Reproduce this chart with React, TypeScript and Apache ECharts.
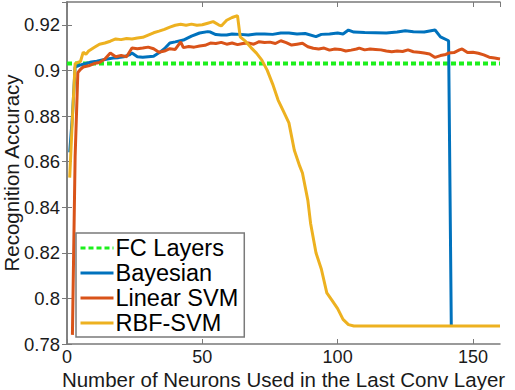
import React, { useEffect, useRef } from "react";
import * as echarts from "echarts";

const xTicks = [0, 50, 100, 150];
const yTicks = [0.78, 0.8, 0.82, 0.84, 0.86, 0.88, 0.9, 0.92];
const seriesNames = ["FC Layers", "Bayesian", "Linear SVM", "RBF-SVM"];

const fcX = [0, 160];
const fcY = [0.903, 0.903];

const bayesX = [1, 2, 3, 5, 7, 9, 11, 13, 15, 17, 19, 21, 23, 24, 26, 28, 30, 32, 34, 36, 38, 40, 43, 46, 49, 52, 53, 55, 57, 59, 61, 64, 67, 70, 73, 76, 79, 82, 85, 88, 92, 94, 97, 100, 102, 104, 106, 110, 114, 118, 122, 125, 128, 132, 136, 138, 141, 142];
const bayesY = [0.864, 0.88, 0.9015, 0.9024, 0.903, 0.9037, 0.904, 0.9046, 0.905, 0.9054, 0.9056, 0.906, 0.9068, 0.9076, 0.906, 0.9058, 0.906, 0.9062, 0.9077, 0.9095, 0.912, 0.9125, 0.9133, 0.915, 0.9164, 0.917, 0.9168, 0.9157, 0.9155, 0.9155, 0.916, 0.9158, 0.9155, 0.916, 0.916, 0.9158, 0.9164, 0.9164, 0.916, 0.9162, 0.9148, 0.9158, 0.916, 0.9164, 0.916, 0.9177, 0.9168, 0.9166, 0.9165, 0.9164, 0.9168, 0.9174, 0.917, 0.9168, 0.9177, 0.9147, 0.913, 0.788];

const svmX = [2, 3, 4, 5, 6, 8, 10, 12, 14, 16, 18, 20, 22, 24, 26, 28, 30, 32, 34, 36, 38, 40, 42, 43, 45, 47, 49, 51, 53, 55, 57, 59, 61, 63, 65, 67, 69, 71, 73, 75, 77, 79, 81, 83, 85, 87, 89, 91, 93, 95, 97, 99, 101, 103, 105, 107, 108, 110, 112, 114, 116, 118, 120, 122, 124, 126, 128, 130, 132, 134, 136, 138, 140, 141, 143, 145, 146, 148, 150, 152, 154, 156, 158, 160];
const svmY = [0.784, 0.862, 0.899, 0.9005, 0.9015, 0.902, 0.903, 0.9035, 0.905, 0.9076, 0.906, 0.9065, 0.906, 0.9098, 0.9095, 0.9098, 0.9102, 0.9095, 0.908, 0.9085, 0.9095, 0.9092, 0.9125, 0.91, 0.9105, 0.9102, 0.9107, 0.911, 0.912, 0.9118, 0.9123, 0.9115, 0.912, 0.9113, 0.9118, 0.912, 0.9115, 0.9126, 0.9122, 0.9124, 0.9118, 0.913, 0.9122, 0.9111, 0.9115, 0.9119, 0.9104, 0.9097, 0.9094, 0.9098, 0.9089, 0.9094, 0.9092, 0.9085, 0.9089, 0.9094, 0.9098, 0.909, 0.9094, 0.9092, 0.909, 0.9085, 0.9082, 0.9085, 0.9083, 0.909, 0.9082, 0.908, 0.9076, 0.9072, 0.9057, 0.9065, 0.907, 0.9076, 0.9078, 0.909, 0.9094, 0.9078, 0.908, 0.9075, 0.9068, 0.9058, 0.9054, 0.905];

const rbfX = [1, 2, 3, 4, 5, 6, 7, 8, 10, 12, 14, 16, 18, 20, 22, 24, 26, 28, 30, 32, 34, 36, 38, 40, 42, 44, 46, 48, 50, 52, 54, 56, 57, 59, 61, 63, 64, 66, 68, 70, 72, 74, 76, 78, 80, 82, 84, 86, 87, 89, 90, 92, 94, 96, 98, 100, 102, 104, 106, 160];
const rbfY = [0.853, 0.879, 0.903, 0.9035, 0.904, 0.908, 0.907, 0.9085, 0.91, 0.9115, 0.912, 0.9128, 0.9138, 0.9135, 0.914, 0.9138, 0.9142, 0.9145, 0.9155, 0.9165, 0.9172, 0.918, 0.919, 0.9198, 0.9202, 0.9198, 0.9203, 0.9198, 0.92, 0.9207, 0.9214, 0.92, 0.9195, 0.922, 0.9232, 0.924, 0.9147, 0.9127, 0.91, 0.9076, 0.9045, 0.9, 0.894, 0.887, 0.882, 0.877, 0.865, 0.858, 0.855, 0.843, 0.833, 0.82, 0.8128, 0.8024, 0.799, 0.7955, 0.7908, 0.7885, 0.7879, 0.7879];

const zip = (xs: number[], ys: number[]) => xs.map((x, i) => [x, ys[i]]);

const FONT = "'Liberation Sans', Arial, Helvetica, sans-serif";
const AXIS_COLOR = "#7a7a7a";
const TEXT_COLOR = "#1a1a1a";

export default function App() {
  const ref = useRef<HTMLDivElement>(null);
  useEffect(() => {
    document.body.style.margin = "0";
    if (!ref.current) return;
    const chart = echarts.init(ref.current, null, { renderer: "svg" });
    const axisLine = { show: true, lineStyle: { color: AXIS_COLOR, width: 1.5 } };
    const tick = { show: true, inside: true, length: 5, lineStyle: { color: AXIS_COLOR, width: 1 } };
    const xFmt = (v: number) => (xTicks.includes(Math.round(v)) && Math.abs(v - Math.round(v)) < 1e-6 ? String(Math.round(v)) : "");
    const yFmt = (v: number) => {
      const r = +v.toFixed(2);
      return yTicks.some((t) => Math.abs(t - r) < 1e-9) && Math.abs(v - r) < 1e-6 ? String(r) : "";
    };
    chart.setOption({
      animation: false,
      backgroundColor: "#ffffff",
      textStyle: { fontFamily: FONT },
      grid: { left: 67, top: 2, width: 433, height: 342, containLabel: false, outerBoundsMode: "none" },
      xAxis: [
        {
          type: "value", min: 0, max: 160, interval: 50, position: "bottom",
          axisLine, axisTick: tick, splitLine: { show: false },
          axisLabel: { formatter: xFmt, fontSize: 18, lineHeight: 16, color: TEXT_COLOR, margin: 5, fontFamily: FONT, showMaxLabel: false },
          name: "Number of Neurons Used in the Last Conv Layer", nameLocation: "middle", nameGap: 25, nameMoveOverlap: false,
          nameTextStyle: { fontSize: 20.5, lineHeight: 20, color: TEXT_COLOR, fontFamily: FONT },
        },
        {
          type: "value", min: 0, max: 160, interval: 50, position: "top",
          axisLine, axisTick: tick, splitLine: { show: false }, axisLabel: { show: false },
        },
      ],
      yAxis: [
        {
          type: "value", min: 0.78, max: 0.93, interval: 0.02, position: "left",
          axisLine, axisTick: tick, splitLine: { show: false },
          axisLabel: { formatter: yFmt, fontSize: 18.5, color: TEXT_COLOR, margin: 7, fontFamily: FONT, showMaxLabel: false },
          name: "Recognition Accuracy", nameLocation: "middle", nameGap: 45, nameRotate: 90, nameMoveOverlap: false,
          nameTextStyle: { fontSize: 20.5, color: TEXT_COLOR, fontFamily: FONT },
        },
        {
          type: "value", min: 0.78, max: 0.93, interval: 0.02, position: "right",
          axisLine, axisTick: tick, splitLine: { show: false }, axisLabel: { show: false },
        },
      ],
      legend: {
        data: seriesNames,
        orient: "vertical",
        left: 76,
        top: 233,
        itemWidth: 33,
        itemHeight: 14,
        itemGap: 1,
        padding: [3, 6, 2, 3],
        borderColor: AXIS_COLOR,
        borderWidth: 1.5,
        backgroundColor: "#ffffff",
        textStyle: { fontSize: 23.5, lineHeight: 23, color: "#000", fontFamily: FONT, padding: [0, 0, 0, -3] },
        lineStyle: { width: 3 },
        itemStyle: { opacity: 0, borderWidth: 0 },
      },
      series: [
        {
          name: seriesNames[0], type: "line", data: zip(fcX, fcY), symbol: "none", showSymbol: false,
          lineStyle: { color: "#1cf01c", width: 4, type: [5, 3] }, itemStyle: { color: "#1cf01c" },
        },
        {
          name: seriesNames[1], type: "line", data: zip(bayesX, bayesY), symbol: "none", showSymbol: false,
          lineStyle: { color: "#0072BD", width: 3 }, itemStyle: { color: "#0072BD" },
        },
        {
          name: seriesNames[2], type: "line", data: zip(svmX, svmY), symbol: "none", showSymbol: false,
          lineStyle: { color: "#D95319", width: 3 }, itemStyle: { color: "#D95319" },
        },
        {
          name: seriesNames[3], type: "line", data: zip(rbfX, rbfY), symbol: "none", showSymbol: false,
          lineStyle: { color: "#EDB120", width: 3 }, itemStyle: { color: "#EDB120" },
        },
      ],
    });
    return () => chart.dispose();
  }, []);
  return <div ref={ref} style={{ width: 515, height: 390 }} />;
}
